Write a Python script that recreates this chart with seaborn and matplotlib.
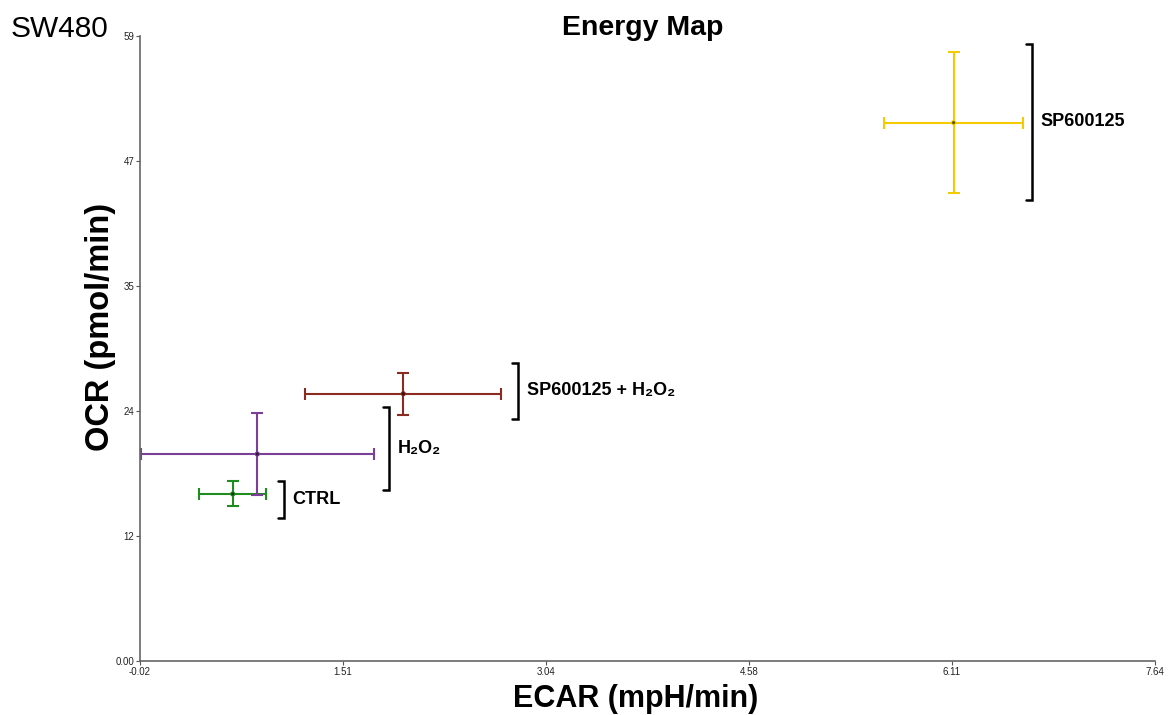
import matplotlib
matplotlib.use("Agg")
import matplotlib.pyplot as plt
import seaborn as sns
import pandas as pd

# ---- data ----
groups = ["CTRL", "H₂O₂", "SP600125 + H₂O₂", "SP600125"]
ecar = [0.68, 0.865, 1.967, 6.12]
ocr = [15.77, 19.54, 25.23, 50.82]
ecar_err = [0.253, 0.88, 0.74, 0.522]
ocr_err = [1.18, 3.9, 1.97, 6.66]
colors = ["#1e8c1e", "#7b3f98", "#8b2a1f", "#f2cc00"]
x_ticks = [-0.02, 1.512, 3.044, 4.576, 6.108, 7.64]
x_tick_labels = ["-0.02", "1.51", "3.04", "4.58", "6.11", "7.64"]
y_ticks = [0, 11.8, 23.6, 35.4, 47.2, 59]
y_tick_labels = ["0.00", "12", "24", "35", "47", "59"]

# ---- bracket styling (offsets from each error-bar end) ----
bracket_dx = [0.134, 0.112, 0.126, 0.07]
bracket_top_pad = [0.0, 0.54, 0.96, 0.77]
bracket_bot_pad = [1.06, -0.5, 0.44, 0.64]

df = pd.DataFrame({"group": groups, "ECAR": ecar, "OCR": ocr,
                   "xerr": ecar_err, "yerr": ocr_err})

sns.set_theme(style="white")
plt.rcParams["font.family"] = ["Liberation Sans", "DejaVu Sans"]
plt.rcParams["text.color"] = "black"
plt.rcParams["axes.labelcolor"] = "black"

fig = plt.figure(figsize=(11.73, 7.15), dpi=100)
ax = fig.add_axes([140 / 1173, 54 / 715, 1015 / 1173, 625 / 715])

for i, row in df.iterrows():
    ax.errorbar(row["ECAR"], row["OCR"], xerr=row["xerr"], yerr=row["yerr"],
                fmt="none", ecolor=colors[i], elinewidth=1.5, capsize=4,
                capthick=1.5, zorder=2)

sns.scatterplot(data=df, x="ECAR", y="OCR", hue="group", palette=colors,
                s=14, edgecolor="none", legend=False, ax=ax, zorder=3)
sns.scatterplot(data=df, x="ECAR", y="OCR", color="black", s=5,
                edgecolor="none", legend=False, ax=ax, zorder=4, alpha=0.6)

for i, row in df.iterrows():
    bx = row["ECAR"] + row["xerr"] + bracket_dx[i]
    y1 = row["OCR"] + row["yerr"] + bracket_top_pad[i]
    y0 = row["OCR"] - row["yerr"] - bracket_bot_pad[i]
    w = 0.045
    ax.plot([bx - w, bx, bx, bx - w], [y1, y1, y0, y0], color="black",
            lw=1.8, solid_joinstyle="miter", clip_on=False, zorder=5)
    ax.text(bx + 0.065, (y0 + y1) / 2, row["group"], fontsize=13,
            fontweight="bold", va="center", ha="left", color="black",
            family=["Liberation Sans", "DejaVu Sans"])

ax.set_xlim(-0.02, 7.64)
ax.set_ylim(0, 59)
ax.set_xticks(x_ticks)
ax.set_xticklabels(x_tick_labels)
ax.set_yticks(y_ticks)
ax.set_yticklabels(y_tick_labels)
ax.tick_params(axis="both", labelsize=7, length=3, width=0.8,
               color="#555555", labelcolor="#222222", direction="out",
               bottom=True, left=True, pad=1)

for s in ["top", "right"]:
    ax.spines[s].set_visible(False)
for s in ["left", "bottom"]:
    ax.spines[s].set_color("#666666")
    ax.spines[s].set_linewidth(1.2)

ax.set_xlabel("ECAR (mpH/min)", fontsize=22, fontweight="bold")
ax.set_ylabel("OCR (pmol/min)", fontsize=23.5, fontweight="bold")
ax.xaxis.set_label_coords(0.488, -0.036)
ax.yaxis.set_label_coords(-0.024, 0.534)

fig.text(643 / 1173, 1 - 28 / 715, "Energy Map", fontsize=20.5,
         fontweight="bold", ha="center", va="center")
fig.text(11 / 1173, 1 - 29 / 715, "SW480", fontsize=21.5, ha="left",
         va="center")

fig.savefig("out.png", dpi=100)
